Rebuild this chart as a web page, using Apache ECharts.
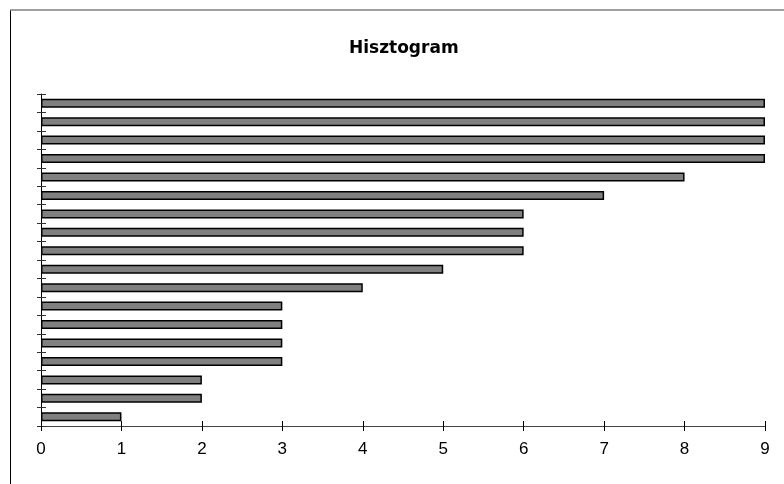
<!DOCTYPE html>
<html><head><meta charset="utf-8">
<script src="https://cdn.jsdelivr.net/npm/echarts@6/dist/echarts.min.js"></script>
<style>html,body{margin:0;padding:0;background:#fff}#c{width:784px;height:484px}</style>
</head><body><div id="c"></div>
<script>
var categories = ['1','2','3','4','5','6','7','8','9','10','11','12','13','14','15','16','17','18'];
var values = [1,2,2,3,3,3,3,4,5,6,6,6,7,8,9,9,9,9];
var xTicks = [0,1,2,3,4,5,6,7,8,9];

var chart = echarts.init(document.getElementById('c'), null, {renderer:'canvas'});
var font = 'Liberation Sans, Arial, sans-serif';
chart.setOption({
  animation:false,
  backgroundColor:'#fff',
  title:{text:'Hisztogram', left:344, top:35, textStyle:{fontFamily:'DejaVu Sans', fontSize:17, fontWeight:'bold', color:'#000'}},
  graphic:[
    {type:'line', shape:{x1:10.5,y1:10,x2:10.5,y2:484}, style:{stroke:'#000', lineWidth:1}},
    {type:'line', shape:{x1:10,y1:10,x2:784,y2:10}, style:{stroke:'#808080', lineWidth:1.5}}
  ],
  grid:{left:41, right:19, top:94, bottom:58},
  xAxis:[
    {type:'value', min:0, max:9, interval:1,
     axisLine:{show:true, lineStyle:{color:'#444', width:1}},
     axisTick:{show:true, length:5, lineStyle:{color:'#000'}},
     axisLabel:{fontFamily:font, fontSize:17, color:'#000', margin:15,
       formatter:function(v){return xTicks.indexOf(v)>=0?String(v):'';}},
     splitLine:{show:false}},
    {type:'value', min:0, max:9, interval:1, position:'bottom',
     axisLine:{show:false},
     axisTick:{show:true, inside:true, length:5, lineStyle:{color:'#000'}},
     axisLabel:{show:false}, splitLine:{show:false}}
  ],
  yAxis:[
    {type:'category', data:categories,
     axisLine:{show:true, lineStyle:{color:'#000', width:1}},
     axisTick:{show:true, length:4, lineStyle:{color:'#333'}},
     axisLabel:{show:false}},
    {type:'category', data:categories, position:'left',
     axisLine:{show:false},
     axisTick:{show:true, inside:true, length:5, lineStyle:{color:'#333'}},
     axisLabel:{show:false}}
  ],
  series:[{
    type:'bar', data:values, barWidth:9,
    itemStyle:{color:'#808080', borderColor:'#000', borderWidth:1.5}
  }]
});
</script></body></html>
